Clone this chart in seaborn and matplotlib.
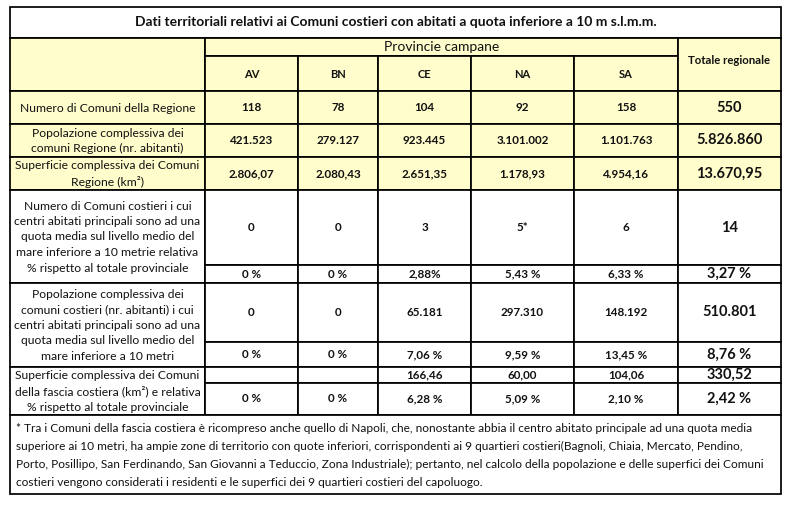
import matplotlib
matplotlib.use("Agg")
import matplotlib.pyplot as plt
import seaborn as sns
from matplotlib.patches import Rectangle

sns.set_theme(style="white")
plt.rcParams['font.family'] = ['Lato', 'DejaVu Sans']

# ---------------- data ----------------
title = "Dati territoriali relativi ai Comuni costieri con abitati a quota inferiore a 10 m s.l.m.m."
group_header = "Provincie campane"
total_header = "Totale regionale"
provinces = ["AV", "BN", "CE", "NA", "SA"]

row_labels = [
    "Numero di Comuni della Regione",
    "Popolazione complessiva dei\ncomuni Regione (nr. abitanti)",
    "Superficie complessiva dei Comuni\nRegione (km²)",
    "Numero di Comuni costieri i cui\ncentri abitati principali sono ad una\nquota media sul livello medio del\nmare inferiore a 10 metrie relativa\n% rispetto al totale provinciale",
    "Popolazione complessiva dei\ncomuni costieri (nr. abitanti) i cui\ncentri abitati principali sono ad una\nquota media sul livello medio del\nmare inferiore a 10 metri",
    "Superficie complessiva dei Comuni\ndella fascia costiera (km²) e relativa\n% rispetto al totale provinciale",
]

n_comuni = ["118", "78", "104", "92", "158", "550"]
popolazione = ["421.523", "279.127", "923.445", "3.101.002", "1.101.763", "5.826.860"]
superficie = ["2.806,07", "2.080,43", "2.651,35", "1.178,93", "4.954,16", "13.670,95"]
n_costieri = ["0", "0", "3", "5*", "6", "14"]
n_costieri_pct = ["0 %", "0 %", "2,88%", "5,43 %", "6,33 %", "3,27 %"]
pop_costieri = ["0", "0", "65.181", "297.310", "148.192", "510.801"]
pop_costieri_pct = ["0 %", "0 %", "7,06 %", "9,59 %", "13,45 %", "8,76 %"]
sup_costieri = ["", "", "166,46", "60,00", "104,06", "330,52"]
sup_costieri_pct = ["0 %", "0 %", "6,28 %", "5,09 %", "2,10 %", "2,42 %"]

footnote = [
    "* Tra i Comuni della fascia costiera è ricompreso anche quello di Napoli, che, nonostante abbia il centro abitato principale ad una quota media",
    "superiore ai 10 metri, ha ampie zone di territorio con quote inferiori, corrispondenti ai 9 quartieri costieri(Bagnoli, Chiaia, Mercato, Pendino,",
    "Porto, Posillipo, San Ferdinando, San Giovanni a Teduccio, Zona Industriale); pertanto, nel calcolo della popolazione e delle superfici dei Comuni",
    "costieri vengono considerati i residenti e le superfici dei 9 quartieri costieri del capoluogo.",
]

# ---------------- layout ----------------
W, H = 793, 508
fig = plt.figure(figsize=(W / 100, H / 100), dpi=100)
ax = fig.add_axes([0, 0, 1, 1])
ax.set_xlim(0, W)
ax.set_ylim(H, 0)
ax.axis("off")

YELLOW = "#FFFDCB"
LW = 1.25
xs = [10, 205, 298, 378, 471, 574, 678, 781]

def cell(x0, y0, x1, y1, fc="white"):
    ax.add_patch(Rectangle((x0, y0), x1 - x0, y1 - y0, facecolor=fc,
                           edgecolor="black", linewidth=LW, zorder=1))

def txt(x, y, s, size=9, weight="normal", ha="center", ls=1.2):
    ax.text(x, y, s, ha=ha, va="center", fontsize=size, fontweight=weight,
            color="#111111", linespacing=ls, zorder=3)

# title
cell(xs[0], 7, xs[-1], 38)
txt((xs[0] + xs[-1]) / 2, 22.5, title, size=10, weight="bold")

# header
cell(xs[0], 38, xs[1], 91, YELLOW)
cell(xs[1], 38, xs[6], 56, YELLOW)
txt((xs[1] + xs[6]) / 2, 47, group_header, size=10)
for i, p in enumerate(provinces):
    cell(xs[1 + i], 56, xs[2 + i], 91, YELLOW)
    txt((xs[1 + i] + xs[2 + i]) / 2, 74.5, p, size=8, weight="bold")
cell(xs[6], 38, xs[7], 91, YELLOW)
txt((xs[6] + xs[7]) / 2, 61, total_header, size=8.2, weight="bold")

def values_row(y0, y1, vals, fc="white"):
    for i, v in enumerate(vals):
        cell(xs[1 + i], y0, xs[2 + i], y1, fc)
        cx = (xs[1 + i] + xs[2 + i]) / 2
        cy = (y0 + y1) / 2
        if i == 5:
            txt(cx, cy, v, size=10.5, weight="bold")
        else:
            txt(cx, cy, v, size=8.4, weight="bold")

# yellow rows
simple_rows = [(91, 124, n_comuni), (124, 157, popolazione), (157, 190, superficie)]
for k, (y0, y1, vals) in enumerate(simple_rows):
    cell(xs[0], y0, xs[1], y1, YELLOW)
    txt((xs[0] + xs[1]) / 2, (y0 + y1) / 2 + 0.5, row_labels[k], size=8.7, ls=1.48)
    values_row(y0, y1, vals, YELLOW)

# white rows with split value cells
split_rows = [
    (190, 265, 283, n_costieri, n_costieri_pct),
    (283, 342, 367, pop_costieri, pop_costieri_pct),
    (367, 383, 415, sup_costieri, sup_costieri_pct),
]
for k, (y0, ym, y1, va, vb) in enumerate(split_rows):
    cell(xs[0], y0, xs[1], y1)
    txt((xs[0] + xs[1]) / 2, (y0 + y1) / 2 + 0.5, row_labels[3 + k], size=8.7, ls=1.5)
    values_row(y0, ym, va)
    values_row(ym, y1, vb)

# footnote
cell(xs[0], 415, xs[-1], 494)
for j, line in enumerate(footnote):
    txt(16, 428 + j * 18.3, line, size=8.6, ha="left")

fig.savefig("out.png", dpi=100, facecolor="white")
